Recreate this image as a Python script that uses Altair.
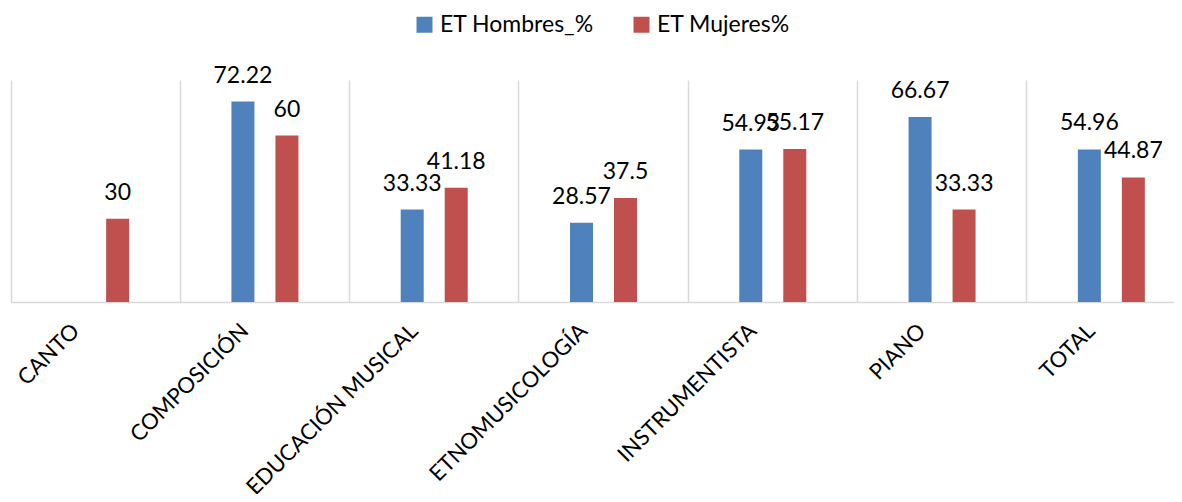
import altair as alt
import pandas as pd

categories = ["CANTO", "COMPOSICIÓN", "EDUCACIÓN MUSICAL", "ETNOMUSICOLOGÍA",
              "INSTRUMENTISTA", "PIANO", "TOTAL"]
series = ["ET Hombres_%", "ET Mujeres%"]
hombres = [None, 72.22, 33.33, 28.57, 54.93, 66.67, 54.96]
mujeres = [30, 60, 41.18, 37.5, 55.17, 33.33, 44.87]
colors = ["#4F81BD", "#C0504D"]

rows = []
for c, h, m in zip(categories, hombres, mujeres):
    for s, v in ((series[0], h), (series[1], m)):
        if v is not None:
            rows.append({"cat": c, "serie": s, "val": v, "lbl": f"{v:g}"})
df = pd.DataFrame(rows)

FONT = "Lato"

x = alt.X(
    "cat:N",
    sort=categories,
    scale=alt.Scale(domain=categories, range=[0, 1185], paddingInner=0, paddingOuter=0),
    axis=alt.Axis(
        title=None, labelAngle=-45, labelAlign="right", labelBaseline="middle",
        labelFontSize=22, labelFont=FONT, labelColor="#000000", labelPadding=25,
        labelOffset=-20, labelLimit=0, ticks=False, grid=True, gridColor="#D9D9D9",
        gridWidth=1.5, bandPosition=0, domainColor="#D9D9D9", domainWidth=1.5,
    ),
)
y = alt.Y("val:Q", scale=alt.Scale(domain=[0, 80]), axis=None)
xo = alt.XOffset("serie:N", scale=alt.Scale(domain=series, range=[51.14, 118.14],
                                            paddingInner=0.4773, paddingOuter=0))

bars = alt.Chart(df).mark_bar().encode(
    x=x, y=y, xOffset=xo,
    color=alt.Color(
        "serie:N",
        scale=alt.Scale(domain=series, range=colors),
        legend=alt.Legend(
            title=None, orient="none", legendX=402, legendY=-67, direction="horizontal",
            symbolType="square", symbolSize=256, symbolStrokeWidth=0,
            labelFontSize=23, labelFont=FONT, labelColor="#000000", labelOffset=4,
            columnPadding=36, padding=0,
        ),
    ),
)

labels = alt.Chart(df).mark_text(
    baseline="alphabetic", dy=-19, fontSize=23, font=FONT, color="#000000"
).encode(x=x, y=y, xOffset=xo, text="lbl:N")

chart = alt.layer(bars, labels).properties(
    width=1163, height=222,
    autosize="none",
    padding={"left": 3, "top": 72, "right": 0, "bottom": 192},
    background="white",
).configure_view(stroke=None)

chart.save("out.html", embed_options={"renderer": "svg", "actions": False})
